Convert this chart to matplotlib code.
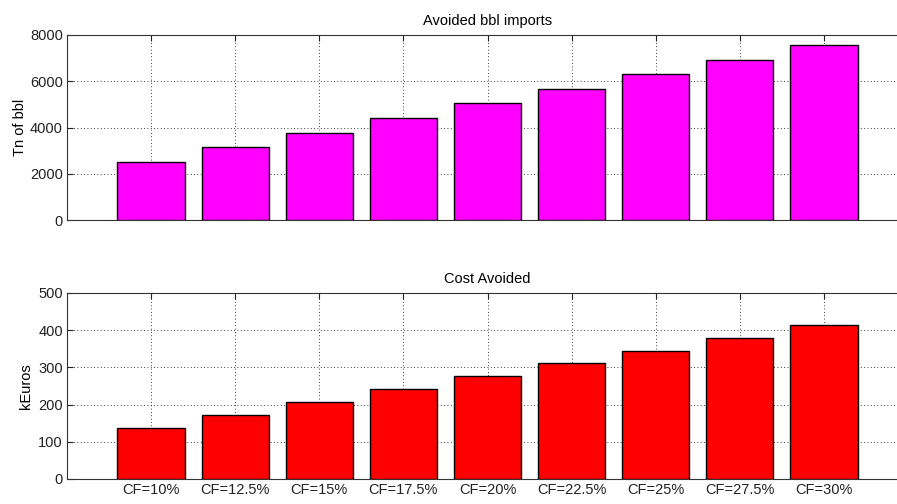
import matplotlib
matplotlib.use("Agg")
import matplotlib.pyplot as plt
import numpy as np

plt.rcParams['font.family'] = ['Liberation Sans', 'DejaVu Sans']

categories = ["CF=10%", "CF=12.5%", "CF=15%", "CF=17.5%", "CF=20%",
              "CF=22.5%", "CF=25%", "CF=27.5%", "CF=30%"]
avoided_bbl = [2520, 3150, 3780, 4410, 5040, 5670, 6300, 6930, 7560]
cost_avoided = [138, 172.5, 207, 241.5, 276, 310.5, 345, 379.5, 414]

W, H = 897, 504
fig = plt.figure(figsize=(W / 100, H / 100), dpi=100)

left = 67 / W
width = 841 / W
ax1 = fig.add_axes([left, 1 - 220 / H, width, 185 / H])
ax2 = fig.add_axes([left, 1 - 479 / H, width, 186 / H])

x = np.arange(1, len(categories) + 1)
FS = 10.5


def style(ax, values, color, title, ylabel, ymax, ystep, show_labels, ylabelpad):
    ax.bar(x, values, width=0.8, color=color, edgecolor='black', linewidth=1.0, zorder=3)
    ax.set_xlim(0, 10)
    ax.set_ylim(0, ymax)
    ax.set_xticks(x)
    ax.set_yticks(np.arange(0, ymax + 1, ystep))
    if show_labels:
        ax.set_xticklabels(categories)
    else:
        ax.set_xticklabels([])
    ax.grid(True, color='black', linestyle=(0, (1, 3)), linewidth=0.6, zorder=0)
    ax.set_axisbelow(True)
    ax.tick_params(direction='in', length=4, width=0.8, top=True, right=True,
                   labelsize=FS, colors='#222222', pad=3)
    for s in ax.spines.values():
        s.set_color('#333333')
        s.set_linewidth(0.8)
    ax.set_title(title, fontsize=FS, pad=7)
    ax.set_ylabel(ylabel, fontsize=FS, labelpad=ylabelpad)


style(ax1, avoided_bbl, '#ff00ff', 'Avoided bbl imports', 'Tn of bbl', 8000, 2000, False, 2)
style(ax2, cost_avoided, '#ff0000', 'Cost Avoided', 'kEuros', 500, 100, True, 4)

fig.savefig('out.png', dpi=100)
